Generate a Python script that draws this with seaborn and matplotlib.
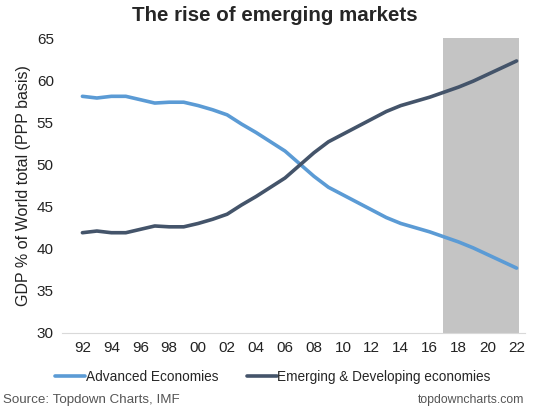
import matplotlib
matplotlib.use("Agg")
import matplotlib.pyplot as plt
import seaborn as sns
import pandas as pd

# Data
years = list(range(1992, 2023))
advanced = [58.1, 57.9, 58.1, 58.1, 57.7, 57.3, 57.4, 57.4, 57.0, 56.5,
            55.9, 54.8, 53.8, 52.7, 51.6, 50.1, 48.6, 47.3, 46.4, 45.5,
            44.6, 43.7, 43.0, 42.5, 42.0, 41.4, 40.8, 40.1, 39.3, 38.5, 37.7]
emerging = [41.9, 42.1, 41.9, 41.9, 42.3, 42.7, 42.6, 42.6, 43.0, 43.5,
            44.1, 45.2, 46.2, 47.3, 48.4, 49.9, 51.4, 52.7, 53.6, 54.5,
            55.4, 56.3, 57.0, 57.5, 58.0, 58.6, 59.2, 59.9, 60.7, 61.5, 62.3]
series_names = ["Advanced Economies", "Emerging & Developing economies"]
tick_years = list(range(1992, 2023, 2))
tick_labels = [f"{y % 100:02d}" for y in tick_years]
forecast_start, forecast_end = 2016.9, 2022.2

df = pd.DataFrame({"Year": years, series_names[0]: advanced, series_names[1]: emerging})
df = df.melt(id_vars="Year", var_name="Series", value_name="Share")

sns.set_style("white")
plt.rcParams['font.family'] = ['Liberation Sans', 'DejaVu Sans']

fig, ax = plt.subplots(figsize=(5.5, 4.11), dpi=100)
fig.subplots_adjust(left=0.113, right=0.955, top=0.907, bottom=0.19)

# Forecast period shading
ax.axvspan(forecast_start, forecast_end, color="#c4c4c4", lw=0, zorder=0)

sns.lineplot(data=df, x="Year", y="Share", hue="Series", hue_order=series_names,
             palette=["#5b9bd5", "#44546a"], linewidth=2.6, ax=ax, legend=True)

ax.set_xlim(1990.6, 2022.6)
ax.set_ylim(30, 65)
ax.set_yticks(range(30, 66, 5))
ax.set_xticks(tick_years)
ax.set_xticklabels(tick_labels)
ax.tick_params(axis="both", length=0, labelsize=11, colors="#222222", pad=6)
ax.set_xlabel("")
ax.set_ylabel("GDP % of World total (PPP basis)", fontsize=11.5, color="#222222")

sns.despine(ax=ax, left=True, top=True, right=True)
ax.spines["bottom"].set_color("#d9d9d9")

ax.legend(loc="upper center", bbox_to_anchor=(0.455, -0.085), ncol=2, frameon=False,
          fontsize=9.8, handlelength=2.2, handletextpad=0.05, columnspacing=2.1)

fig.suptitle("The rise of emerging markets", fontsize=14.8, fontweight="bold", y=0.985)
fig.text(0.006, 0.02, "Source: Topdown Charts, IMF", fontsize=9.6, color="#555555")
fig.text(0.953, 0.02, "topdowncharts.com", fontsize=8.8, color="#555555", ha="right")

fig.savefig("out.png", dpi=100)
